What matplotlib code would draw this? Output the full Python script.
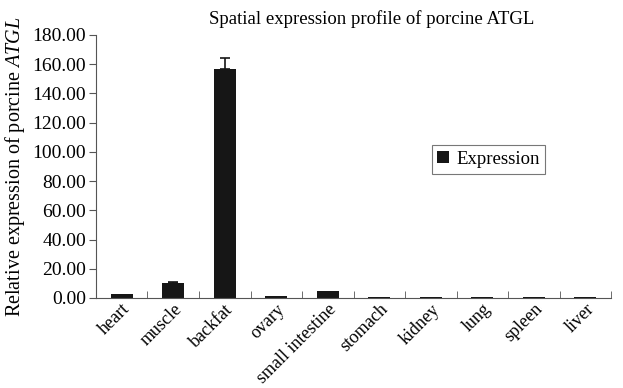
import matplotlib
matplotlib.use('Agg')
import matplotlib.pyplot as plt
import numpy as np

plt.rcParams['font.family'] = ['Liberation Serif', 'DejaVu Serif']
plt.rcParams['mathtext.fontset'] = 'custom'
plt.rcParams['mathtext.rm'] = 'Liberation Serif'
plt.rcParams['mathtext.it'] = 'Liberation Serif:italic'

# данные
tissues = ['heart', 'muscle', 'backfat', 'ovary', 'small intestine',
           'stomach', 'kidney', 'lung', 'spleen', 'liver']
expression = [3.0, 10.0, 157.0, 1.2, 5.0, 0.5, 0.5, 0.5, 0.5, 0.5]
errors = [0.0, 0.6, 7.5, 0.0, 0.0, 0.0, 0.0, 0.0, 0.0, 0.0]
yticks = np.arange(0, 181, 20)

fig = plt.figure(figsize=(6.23, 3.88), dpi=100)
ax = fig.add_axes([0.154, 0.232, 0.827, 0.678])

x = np.arange(len(tissues))
ax.bar(x, expression, width=0.43, color='#161616', label='Expression', zorder=2)

# усы только там, где они видны
has_err = np.array(errors) > 0
ax.errorbar(x[has_err], np.array(expression)[has_err],
            yerr=[np.zeros(has_err.sum()), np.array(errors)[has_err]],
            fmt='none', ecolor='#161616', elinewidth=1.2, capsize=3.3, capthick=1.2, zorder=3)

ax.set_xlim(-0.5, len(tissues) - 0.5)
ax.set_ylim(0, 180)
ax.set_yticks(yticks)
ax.set_yticklabels([f'{v:.2f}' for v in yticks], fontsize=14)
ax.set_xticks(x)
ax.set_xticklabels(tissues, rotation=45, ha='right', rotation_mode='anchor', fontsize=13)
ax.tick_params(axis='x', length=0, pad=2)
ax.set_xticks(np.arange(len(tissues) + 1) - 0.5, minor=True)
ax.tick_params(axis='x', which='minor', direction='in', length=5, color='#555555')
ax.tick_params(axis='y', direction='out', length=5, color='#555555', pad=2)
for side in ['top', 'right']:
    ax.spines[side].set_visible(False)
for side in ['left', 'bottom']:
    ax.spines[side].set_color('#555555')

ax.set_ylabel('Relative expression of porcine $\\it{ATGL}$', fontsize=14.5, labelpad=4)
fig.text(0.597, 0.928, 'Spatial expression profile of porcine ATGL', fontsize=13.5,
         ha='center', va='bottom')

leg = ax.legend(loc='upper left', bbox_to_anchor=(0.652, 0.58), fontsize=13.5, frameon=True,
                fancybox=False, edgecolor='#555555', handlelength=0.6, handleheight=0.6,
                handletextpad=0.4, borderpad=0.3, borderaxespad=0)
leg.get_frame().set_linewidth(0.8)

fig.savefig('out.png', dpi=100)
